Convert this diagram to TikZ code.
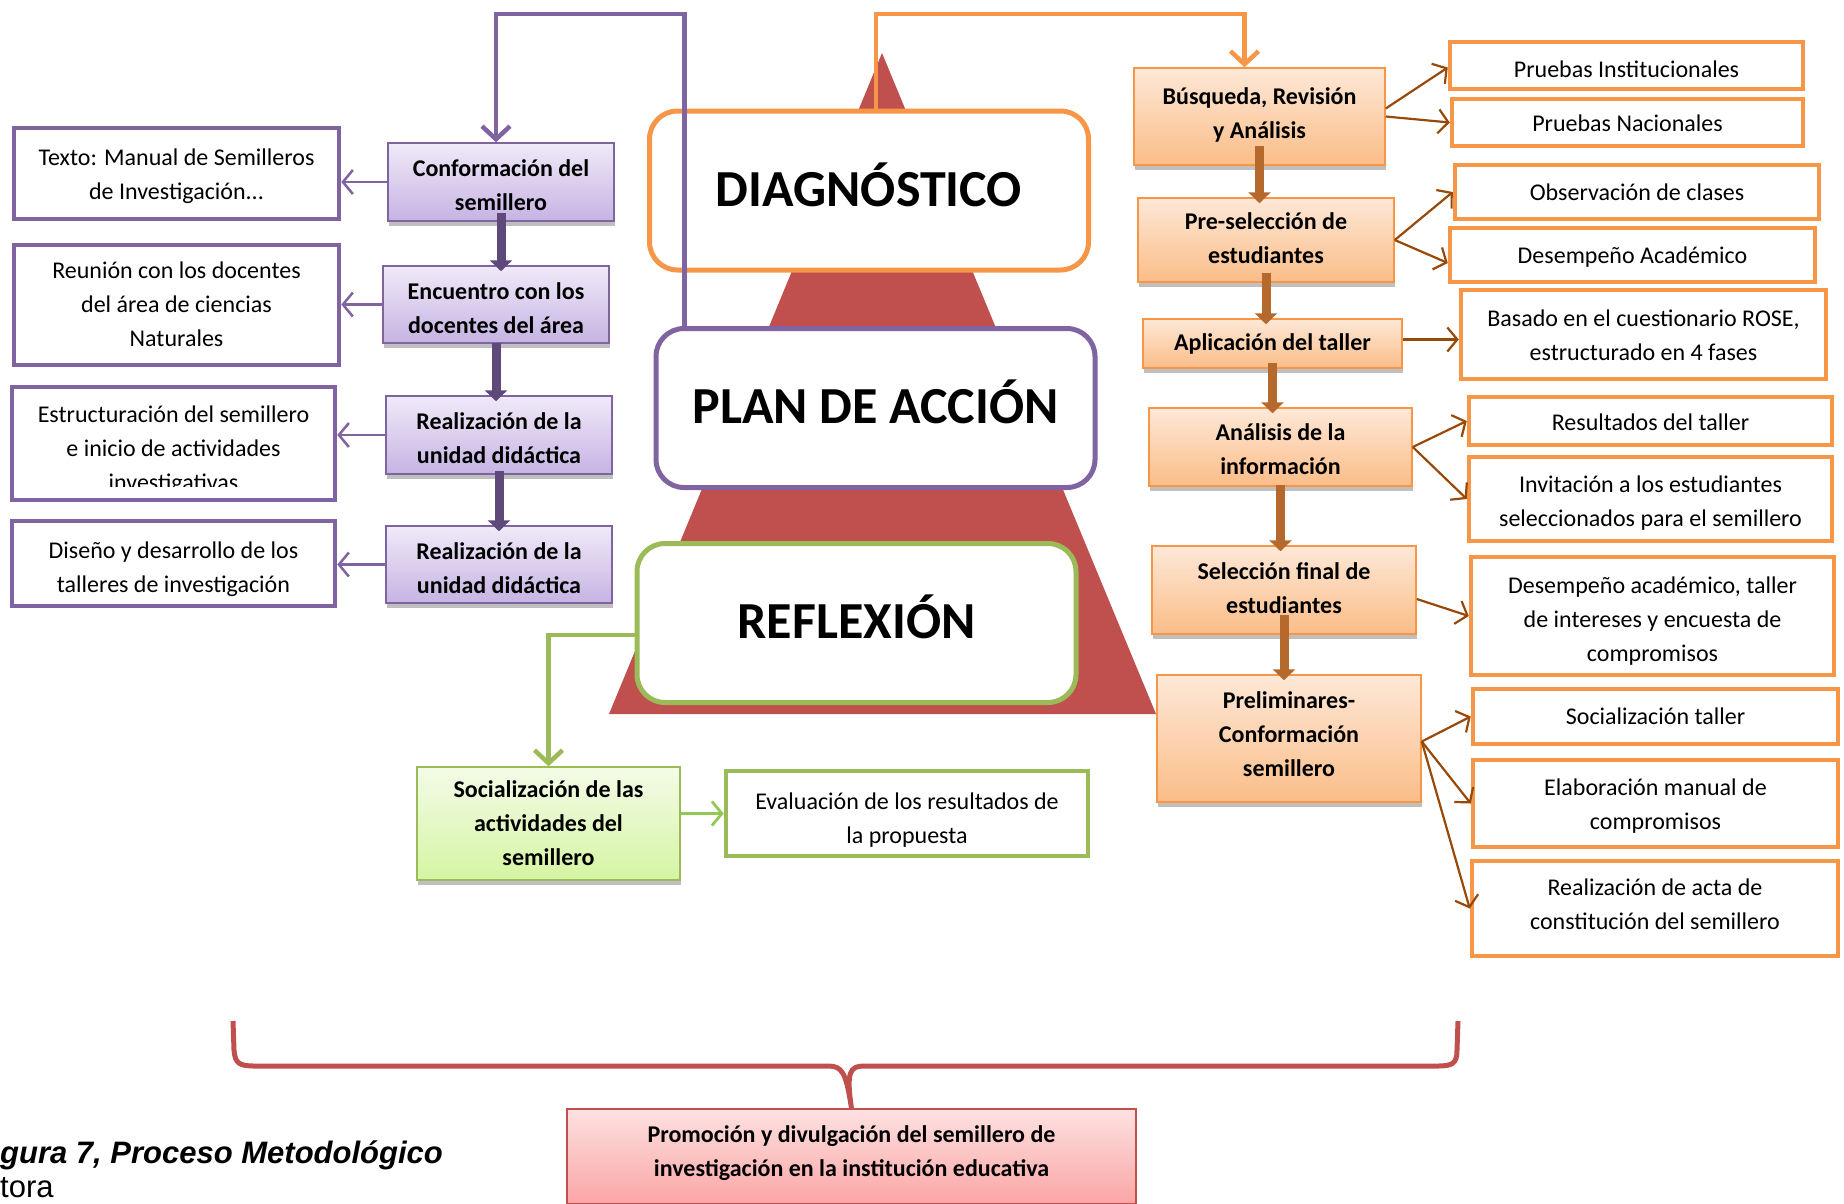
\documentclass[tikz,border=0pt]{standalone}
\usepackage{fontspec}
\setmainfont{Carlito}
\newfontfamily\capfont{Liberation Sans}
\usetikzlibrary{arrows.meta,shadows,calc}
\newcommand\txs[2]{\raisebox{#1}[\height][\depth]{\begin{tabular}{@{}c@{}}#2\end{tabular}}}
\definecolor{purpB}{HTML}{8064A2}
\definecolor{purpD}{HTML}{5F497A}
\definecolor{purpT}{HTML}{F0EAF8}
\definecolor{purpBot}{HTML}{C6B3E3}
\definecolor{orB}{HTML}{F79646}
\definecolor{orT}{HTML}{FDE8D7}
\definecolor{orBot}{HTML}{FBBD88}
\definecolor{brT}{HTML}{B5692D}
\definecolor{brN}{HTML}{984807}
\definecolor{grB}{HTML}{9BBB59}
\definecolor{grA}{HTML}{92C954}
\definecolor{grT}{HTML}{F4FBE8}
\definecolor{grBot}{HTML}{D5F5A2}
\definecolor{rdB}{HTML}{C0504D}
\definecolor{rdT}{HTML}{FDE1E1}
\definecolor{rdBot}{HTML}{FBA5A5}
\tikzset{
  fsn/.style={font=\fontsize{24}{34}\selectfont},
  wbox/.style={draw, fill=white, line width=4.5pt, align=center, inner sep=0pt, fsn},
  purpW/.style={wbox, draw=purpB},
  orW/.style={wbox, draw=orB},
  grW/.style={wbox, draw=grB},
  gbox/.style={line width=1.5pt, align=center, inner sep=0pt,
    font=\fontsize{24}{34}\selectfont\bfseries,
    drop shadow={shadow xshift=1pt, shadow yshift=-5pt, opacity=0.25, fill=black}},
  purpG/.style={gbox, draw=purpB, top color=purpT, bottom color=purpBot},
  orG/.style={gbox, draw=orB, top color=orT, bottom color=orBot},
  grG/.style={gbox, draw=grB, top color=grT, bottom color=grBot},
  rdG/.style={gbox, draw=rdB, top color=rdT, bottom color=rdBot, font=\fontsize{24}{34}\selectfont\bfseries},
  title/.style={draw, fill=white, line width=5pt, rounded corners=28pt, inner sep=0pt,
    minimum width=439pt, minimum height=159pt, font=\fontsize{52}{60}\selectfont\bfseries},
  thickP/.style={draw=purpD, line width=9pt, -{Triangle[width=22pt,length=11pt]}},
  thickB/.style={draw=brT, line width=9pt, -{Triangle[width=22pt,length=11pt]}},
  thinP/.style={draw=purpB, line width=2.5pt, -{Straight Barb[length=10pt,width=24pt]}},
  thinB/.style={draw=brN, line width=2.2pt, -{Straight Barb[length=10pt,width=24pt]}},
  thinG/.style={draw=grA, line width=2.8pt, -{Straight Barb[length=10pt,width=24pt]}},
  connP/.style={draw=purpB, line width=4.5pt, -{Straight Barb[length=13pt,width=28pt]}},
  connO/.style={draw=orB, line width=4.5pt, -{Straight Barb[length=13pt,width=28pt]}},
  connG/.style={draw=grB, line width=4.5pt, -{Straight Barb[length=13pt,width=28pt]}},
  brace/.style={draw=rdB, line width=5pt},
}
\begin{document}
\begin{tikzpicture}[x=1pt,y=-1pt]
\useasboundingbox (0,0) rectangle (1844,1203);
% pyramid
\fill[rdB] (882,53) -- (1156,714) -- (609,714) -- cycle;
% titles
\node[title, draw=orB] (diag) at (869,190.5) {\raisebox{6pt}[\height][\depth]{DIAGNÓSTICO}};
\node[title, draw=purpB] (plan) at (875.5,408) {\raisebox{6pt}[\height][\depth]{PLAN DE ACCIÓN}};
\node[title, draw=grB] (refl) at (856.5,623) {\raisebox{6pt}[\height][\depth]{REFLEXIÓN}};
% left white boxes
\node[purpW, minimum width=325pt, minimum height=91pt] (texto) at (176.5,173.5) {\txs{-2pt}{Texto: Manual de Semilleros\\de Investigación...}};
\node[purpW, minimum width=325pt, minimum height=120pt] (reun) at (176.5,305) {\txs{-1pt}{Reunión con los docentes\\del área de ciencias\\Naturales}};
\node[purpW, minimum width=323pt, minimum height=113pt] (estr) at (173.5,443.5) {};
\begin{scope}
\clip (20,395) rectangle (330,486);
\node[fsn, align=center, inner sep=0pt] (estrT) at (173.5,450) {Estructuración del semillero\\e inicio de actividades\\investigativas};
\end{scope}
\node[purpW, minimum width=323pt, minimum height=85pt] (dise) at (173.5,563.5) {\txs{-5pt}{Diseño y desarrollo de los\\talleres de investigación}};
% purple gradient boxes
\node[purpG, minimum width=226pt, minimum height=78pt] (conf) at (501,182) {\txs{-5pt}{Conformación del\\semillero}};
\node[purpG, minimum width=226pt, minimum height=77pt] (encu) at (496,304.5) {\txs{-5pt}{Encuentro con los\\docentes del área}};
\node[purpG, minimum width=226pt, minimum height=78pt] (real1) at (499,435) {\txs{-5pt}{Realización de la\\unidad didáctica}};
\node[purpG, minimum width=226pt, minimum height=77pt] (real2) at (499,564.5) {\txs{-5pt}{Realización de la\\unidad didáctica}};
\draw[thickP] ([yshift=9pt]conf.south) -- ([yshift=-6pt]conf.south |- encu.north);
\draw[thickP] ([yshift=1pt]encu.south) -- ([yshift=-6pt]encu.south |- real1.north);
\draw[thickP] ([yshift=4pt]real1.south) -- ([yshift=-6pt]real1.south |- real2.north);
\draw[thinP] (conf.west) -- (texto.east |- conf.west);
\draw[thinP] (encu.west) -- (reun.east |- encu.west);
\draw[thinP] (real1.west) -- (estr.east |- real1.west);
\draw[thinP] (real2.west) -- (dise.east |- real2.west);
% right orange boxes
\node[orG, minimum width=251pt, minimum height=97pt] (busq) at (1259.5,116.5) {\txs{2pt}{Búsqueda, Revisión\\y Análisis}};
\node[orG, minimum width=256pt, minimum height=84pt] (pres) at (1266,240) {\txs{0pt}{Pre-selección de\\estudiantes}};
\node[orG, minimum width=259pt, minimum height=49pt] (apli) at (1272.5,343.5) {Aplicación del taller};
\node[orG, minimum width=263pt, minimum height=78pt] (anal) at (1280.5,447) {\txs{-4pt}{Análisis de la\\información}};
\node[orG, minimum width=264pt, minimum height=88pt] (self) at (1284,590) {\txs{0pt}{Selección final de\\estudiantes}};
\node[orG, minimum width=264pt, minimum height=127pt] (prel) at (1289,738.5) {\txs{3pt}{Preliminares-\\Conformación\\semillero}};
\draw[thickB] ([yshift=20pt]busq.south) -- ([yshift=-6pt]busq.south |- pres.north);
\draw[thickB] ([yshift=10pt]pres.south) -- ([yshift=-6pt]pres.south |- apli.north);
\draw[thickB] ([yshift=6pt]apli.south) -- ([yshift=-6pt]apli.south |- anal.north);
\draw[thickB] ([yshift=2pt]anal.south) -- ([yshift=-6pt]anal.south |- self.north);
\draw[thickB] ([yshift=20pt]self.south) -- ([yshift=-6pt]self.south |- prel.north);
% right white boxes
\node[orW, minimum width=353pt, minimum height=47pt] (pi) at (1626.5,65.5) {\txs{-5pt}{Pruebas Institucionales}};
\node[orW, minimum width=351pt, minimum height=47pt] (pn) at (1627.5,122.5) {\txs{-2pt}{Pruebas Nacionales}};
\node[orW, minimum width=364pt, minimum height=54pt] (obs) at (1637,192) {Observación de clases};
\node[orW, minimum width=365pt, minimum height=54pt] (desa) at (1632.5,255) {\txs{-2pt}{Desempeño Académico}};
\node[orW, minimum width=365pt, minimum height=89pt] (basa) at (1643.5,334.5) {\txs{-2pt}{Basado en el cuestionario ROSE,\\estructurado en 4 fases}};
\node[orW, minimum width=363pt, minimum height=48pt] (resu) at (1650.5,421) {\txs{-3pt}{Resultados del taller}};
\node[orW, minimum width=363pt, minimum height=84pt] (invi) at (1650.5,499) {\txs{-4pt}{Invitación a los estudiantes\\seleccionados para el semillero}};
\node[orW, minimum width=363pt, minimum height=118pt] (desb) at (1652.5,616) {\txs{-5pt}{Desempeño académico, taller\\de intereses y encuesta de\\compromisos}};
\node[orW, minimum width=365pt, minimum height=55pt] (soct) at (1655.5,716.5) {Socialización taller};
\node[orW, minimum width=365pt, minimum height=87pt] (elab) at (1655.5,803.5) {\txs{-2pt}{Elaboración manual de\\compromisos}};
\node[orW, minimum width=366pt, minimum height=95pt] (acta) at (1655,908.5) {\txs{3pt}{Realización de acta de\\constitución del semillero}};
% brown thin arrows
\coordinate (apE) at ([yshift=4pt]apli.east);
\draw[thinB] ([yshift=8pt]busq.east) -- ([yshift=-2pt]pi.west);
\draw[thinB] (busq.east) -- (pn.west);
\draw[thinB] (pres.east) -- (obs.west);
\draw[thinB] (pres.east) -- ([yshift=-8pt]desa.west);
\draw[thinB] (apE) -- (basa.west |- apE);
\draw[thinB] (anal.east) -- (resu.west);
\draw[thinB] (anal.east) -- (invi.west);
\draw[thinB] ([yshift=-9pt]self.east) -- (desb.west);
\draw[thinB] ([yshift=-3pt]prel.east) -- (soct.west);
\draw[thinB] ([yshift=-3pt]prel.east) -- (elab.west);
\draw[thinB] ([yshift=-3pt]prel.east) -- (acta.west);
% green
\node[grG, minimum width=263pt, minimum height=113pt] (soc) at (548.5,823.5) {\txs{-1pt}{Socialización de las\\actividades del\\semillero}};
\node[grW, minimum width=362pt, minimum height=85pt] (eval) at (907,813.5) {\txs{-6pt}{Evaluación de los resultados de\\la propuesta}};
\coordinate (scE) at ([yshift=10pt]soc.east);
\draw[thinG] (scE) -- (eval.west |- scE);
% connectors from titles
\coordinate (ctop) at (0,14);
\coordinate (pstart) at ([xshift=31pt]plan.north west);
\draw[connP] (pstart) -- (pstart |- ctop) -| ([xshift=-5pt]conf.north);
\coordinate (ostart) at ([xshift=7pt]diag.north);
\draw[connO] (ostart) -- (ostart |- ctop) -| ([xshift=-15pt]busq.north);
\coordinate (gstart) at ([yshift=-12pt]refl.west);
\draw[connG] (gstart) -| (soc.north);
% bottom
\node[rdG, minimum width=569pt, minimum height=95pt] (prom) at (851.5,1156.5) {\txs{4pt}{Promoción y divulgación del semillero de\\investigación en la institución educativa}};
\coordinate (braceL) at (233,1021);
\coordinate (braceR) at (1458,1021);
\draw[brace] (braceL) -- (234,1050) .. controls (235,1064) and (240,1066) .. (255,1066)
  -- (828,1066) .. controls (842,1066) and (846,1072) .. (prom.north)
  .. controls (846,1072) and (850,1066) .. (864,1066)
  -- (1437,1066) .. controls (1452,1066) and (1457,1064) .. (1457,1050) -- (braceR);
\node[anchor=base west, inner sep=0pt, font=\capfont\fontsize{31}{34}\selectfont\bfseries\itshape] (cap1) at (0,1163) {gura 7, Proceso Metodológico};
\node[anchor=base west, inner sep=0pt, font=\capfont\fontsize{31}{34}\selectfont] (cap2) at (0,1197) {tora};
\end{tikzpicture}
\end{document}
